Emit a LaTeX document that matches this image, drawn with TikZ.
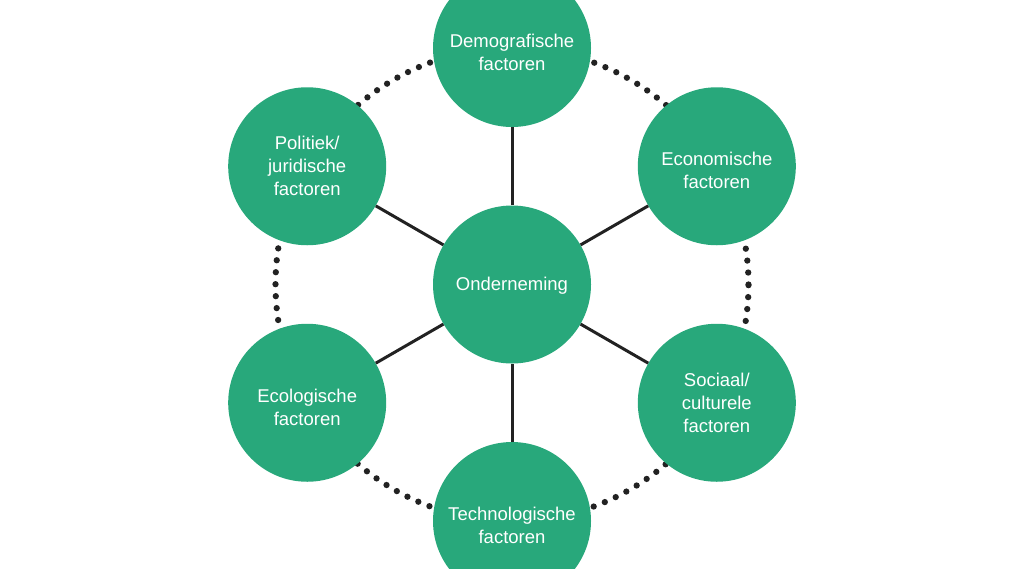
\documentclass[tikz,border=0pt]{standalone}
\usepackage{fontspec}
\setmainfont{Liberation Sans}
\definecolor{pgreen}{HTML}{28A87B}
\definecolor{pdark}{HTML}{222222}
\begin{document}
\begin{tikzpicture}[x=1pt,y=-1pt,
  bubble/.style={circle,fill=pgreen,minimum size=158pt,inner sep=0pt},
  btext/.style={text=white,align=center,
    font=\fontsize{18.5}{23}\selectfont},
  twoline/.style={btext,yshift=-4.5pt},
  spoke/.style={draw=pdark,line width=3pt},
  ring/.style={draw=pdark,line width=6.3pt,line cap=round,dash pattern=on 0pt off 11.98pt}]
\useasboundingbox (0,0) rectangle (1024,568);
\coordinate (c) at (512,284.5);
\draw[ring] (c) circle[radius=236.5pt];
\node[bubble] (center) at (c) {};
\node[bubble] (demo) at ([shift={(90:236.5pt)}]c) {};
\node[bubble] (eco) at ([shift={(30:236.5pt)}]c) {};
\node[bubble] (soc) at ([shift={(-30:236.5pt)}]c) {};
\node[bubble] (tech) at ([shift={(-90:236.5pt)}]c) {};
\node[bubble] (ecol) at ([shift={(-150:236.5pt)}]c) {};
\node[bubble] (pol) at ([shift={(150:236.5pt)}]c) {};
\foreach \n in {demo,eco,soc,tech,ecol,pol}{
  \draw[spoke] (center) -- (\n);
}
\node[btext,yshift=-1pt] (center-t) at (center) {Onderneming};
\node[twoline] (demo-t) at (demo) {Demografische\\factoren};
\node[twoline] (eco-t) at (eco) {Economische\\factoren};
\node[btext] (soc-t) at (soc) {Sociaal/\\culturele\\factoren};
\node[twoline] (tech-t) at (tech) {Technologische\\factoren};
\node[twoline] (ecol-t) at (ecol) {Ecologische\\factoren};
\node[btext] (pol-t) at (pol) {Politiek/\\juridische\\factoren};
\end{tikzpicture}
\end{document}
